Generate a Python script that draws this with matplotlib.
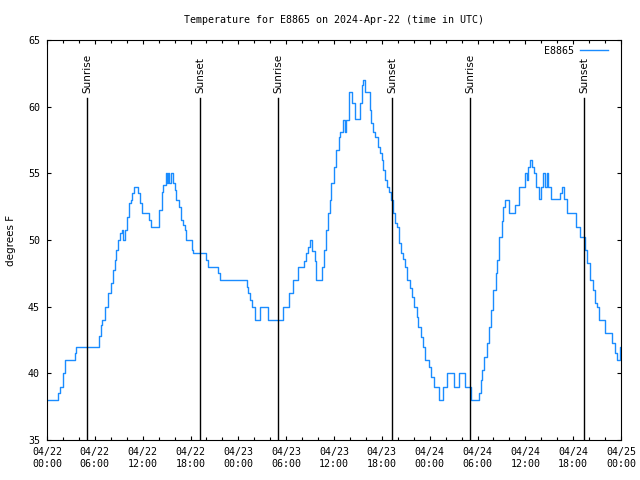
import numpy as np
import pandas as pd
import matplotlib
matplotlib.use('Agg')
from matplotlib import pyplot as plt
import matplotlib.dates as mdates

# breakpoints: hours after 2024-04-22 00:00 UTC, temperature in F
hours = [0.0, 1.35, 1.6, 2.0, 2.3, 3.5, 3.7, 6.5, 6.75, 6.9, 7.3, 7.7, 8.0, 8.3,
         8.5, 8.7, 8.95, 9.2, 9.35, 9.55, 9.75, 10.0, 10.3, 10.5, 10.7, 10.9,
         11.45, 11.7, 11.95, 12.8, 13.05, 14.0, 14.1, 14.4, 14.6, 14.9, 15.05,
         15.2, 15.35, 15.5, 15.75, 16.0, 16.2, 16.6, 16.85, 17.1, 17.25, 17.4,
         18.2, 18.35, 20.0, 20.2, 21.4, 21.7, 25.05, 25.25, 25.45, 25.7, 26.1,
         26.7, 27.75, 29.55, 30.35, 30.8, 31.5, 32.2, 32.45, 32.7, 33.0, 33.3,
         33.6, 33.8, 34.45, 34.7, 34.95, 35.25, 35.5, 35.65, 35.95, 36.3, 36.6,
         36.8, 37.1, 37.35, 37.45, 37.9, 38.2, 38.6, 39.3, 39.5, 39.7, 39.85,
         39.95, 40.55, 40.7, 40.9, 41.1, 41.5, 41.8, 42.0, 42.2, 42.4, 42.7,
         42.95, 43.2, 43.45, 43.65, 43.85, 44.1, 44.4, 44.7, 44.95, 45.2, 45.55,
         45.75, 46.05, 46.35, 46.55, 46.9, 47.2, 47.45, 47.9, 48.2, 48.5, 49.2,
         49.7, 50.2, 51.1, 51.7, 52.4, 53.15, 54.2, 54.4, 54.6, 54.85, 55.15,
         55.4, 55.65, 56.0, 56.3, 56.5, 56.75, 57.05, 57.25, 57.45, 58.0, 58.75,
         59.25, 59.95, 60.15, 60.35, 60.6, 60.8, 61.1, 61.4, 61.75, 61.95,
         62.25, 62.5, 62.75, 62.9, 63.2, 64.3, 64.55, 64.85, 65.25, 66.3, 66.9,
         67.5, 67.75, 68.05, 68.5, 68.7, 69.0, 69.3, 70.05, 70.9, 71.25, 71.5,
         71.85, 72.0]
temps = [38, 38.5, 39, 40, 41, 41.5, 42, 42.8, 43.6, 44, 45, 46, 46.75, 47.75,
         48.5, 49.25, 50, 50.5, 50.75, 50, 50.75, 51.75, 52.75, 53, 53.5, 54,
         53.5, 52.75, 52, 51.5, 51, 51.5, 52.25, 53.6, 54.1, 55, 54.25,
         55, 54.25, 55, 54.25, 53.75, 53, 52.5, 51.5, 51.1, 50.75, 50,
         49.25, 49, 48.5, 48, 47.5, 47, 46.5, 46, 45.5, 45, 44,
         45, 44, 45, 46, 47, 48, 48.4, 49, 49.5, 50, 49.2,
         48.4, 47, 48, 49.25, 50.75, 52, 53, 54.25, 55.5, 56.75, 57.75,
         58.1, 59, 58.1, 59, 61.1, 60.25, 59.1, 60.25, 61.6, 62, 61.6,
         61.1, 59.75, 58.75, 58.1, 57.75, 57, 56.5, 56, 55.25, 54.5, 54,
         53.6, 53, 52, 51.25, 51, 49.75, 49, 48.6, 48, 47, 46.4,
         45.75, 45, 44.25, 43.5, 42.75, 42, 41, 40.5, 39.75, 39, 38,
         39, 40, 39, 40, 39, 38, 38.5, 39.5, 40.25, 41.25, 42.25,
         43.5, 44.75, 46.25, 47.5, 48.5, 50.25, 51.4, 52.5, 53, 52, 52.6,
         54, 55, 54.5, 55.5, 56, 55.5, 55, 54, 53.1, 54,
         55, 54, 55, 54, 53.1, 53.5, 54, 53.1, 52, 51, 50.25,
         49.25, 48.25, 47, 46.25, 45.25, 45, 44, 43, 42.25, 41.5, 41,
         42, 42]

sunrise_hours = [5.02, 28.98, 53.05]
sunset_hours = [19.2, 43.28, 67.37]

base = pd.Timestamp('2024-04-22 00:00')
times = base + pd.to_timedelta(hours, unit='h')

plt.rcParams['font.family'] = 'DejaVu Sans Mono'
plt.rcParams['font.size'] = 7.2

fig = plt.figure(figsize=(6.4, 4.8), dpi=100)
ax = fig.add_axes([47 / 640, 40 / 480, 574 / 640, 400 / 480])

ax.plot(times, temps, drawstyle='steps-post', color='#1a8cff', lw=1.0, label='E8865')

for h, name in [(h, 'Sunrise') for h in sunrise_hours] + [(h, 'Sunset') for h in sunset_hours]:
    t = base + pd.Timedelta(hours=h)
    ax.axvline(t, ymin=0, ymax=0.855, color='black', lw=1.0)
    ax.text(t, 0.868, name, transform=ax.get_xaxis_transform(), rotation=90,
            ha='center', va='bottom', family='DejaVu Sans', fontsize=7.5)

ax.set_xlim(base, base + pd.Timedelta(hours=72))
ax.set_ylim(35, 65)
ax.set_yticks(np.arange(35, 66, 5))
ax.xaxis.set_major_locator(mdates.HourLocator(byhour=range(0, 24, 6)))
ax.xaxis.set_minor_locator(mdates.HourLocator(byhour=range(0, 24, 2)))
ax.xaxis.set_major_formatter(mdates.DateFormatter('%m/%d\n%H:%M'))
ax.tick_params(which='both', direction='in', top=True, right=True, width=0.8)
ax.tick_params(which='major', length=3, pad=5)
ax.tick_params(which='minor', length=2)
for s in ax.spines.values():
    s.set_linewidth(0.8)

ax.set_title('Temperature for E8865 on 2024-Apr-22 (time in UTC)', fontsize=7.2, pad=12)
ax.set_ylabel('degrees F', family='DejaVu Sans', fontsize=7.5, labelpad=9)

ax.legend(loc='upper right', bbox_to_anchor=(0.988, 1.0), frameon=False,
          markerfirst=False, handlelength=2.8, handletextpad=0.6,
          borderaxespad=0.2, prop={'size': 7.2})

fig.savefig('out.png', dpi=100)
